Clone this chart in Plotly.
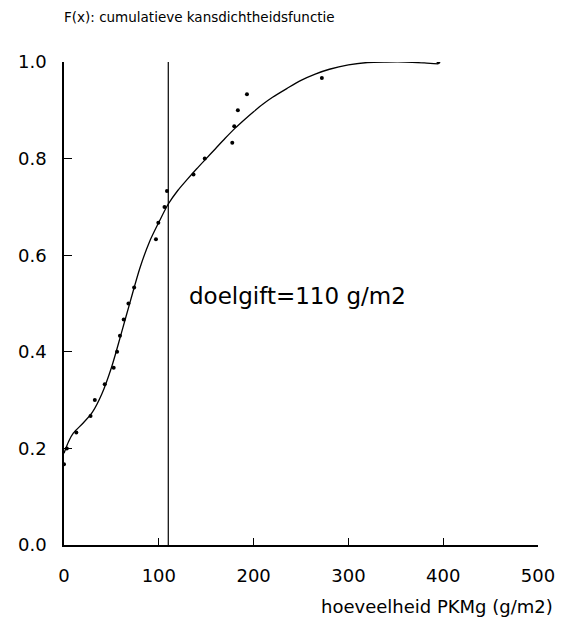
import plotly.graph_objects as go

# observed cumulative frequencies (k/30)
obs_x = [0, 3, 13, 28, 32.5, 43, 52.4, 56, 59, 63, 68, 74, 97, 99.5, 106, 108.6,
         136.6, 148.5, 177.5, 179.6, 183.4, 193, 272, 395]
obs_y = [0.167, 0.2, 0.233, 0.267, 0.3, 0.333, 0.367, 0.4, 0.433, 0.467, 0.5, 0.533,
         0.633, 0.667, 0.7, 0.733, 0.767, 0.8, 0.833, 0.867, 0.9, 0.933, 0.967, 1.0]

# fitted smooth curve
curve_x = [0, 5, 10, 20, 30, 40, 50, 55, 60, 70, 80, 90, 100, 110, 120, 130, 140,
           150, 160, 170, 180, 190, 200, 210, 220, 235, 250, 265, 280, 300, 320,
           340, 360, 380, 395]
curve_y = [0.19, 0.215, 0.232, 0.252, 0.275, 0.313, 0.367, 0.4, 0.435, 0.505, 0.573,
           0.627, 0.668, 0.706, 0.734, 0.757, 0.779, 0.8, 0.821, 0.842, 0.862, 0.88,
           0.897, 0.913, 0.927, 0.945, 0.962, 0.975, 0.985, 0.994, 0.999, 1.0, 1.0,
           0.998, 0.996]

target = 110
x_ticks = [0, 100, 200, 300, 400, 500]
y_ticks = [0.0, 0.2, 0.4, 0.6, 0.8, 1.0]

FONT = "DejaVu Sans"

fig = go.Figure()
fig.add_trace(go.Scatter(x=curve_x, y=curve_y, mode="lines",
                         line=dict(color="black", width=1.3, shape="spline", smoothing=0.8),
                         hoverinfo="skip"))
fig.add_trace(go.Scatter(x=obs_x, y=obs_y, mode="markers",
                         marker=dict(color="black", size=4)))
fig.add_trace(go.Scatter(x=[target, target], y=[0, 1.0], mode="lines",
                         line=dict(color="black", width=1.2)))

fig.update_layout(
    width=567, height=624,
    margin=dict(l=64, r=26, t=62, b=79),
    paper_bgcolor="white", plot_bgcolor="white",
    showlegend=False,
    font=dict(family=FONT, color="black", size=18),
    xaxis=dict(range=[0, 500], tickvals=x_ticks, ticktext=[str(v) for v in x_ticks],
               showline=True, linecolor="black", linewidth=1.5,
               ticks="inside", ticklen=7, tickcolor="black", tickwidth=1,
               showgrid=False, zeroline=False, ticklabelstandoff=14),
    yaxis=dict(range=[0, 1.0], tickvals=y_ticks, ticktext=[f"{v:.1f}" for v in y_ticks],
               showline=True, linecolor="black", linewidth=1.5,
               ticks="inside", ticklen=8, tickcolor="black", tickwidth=1,
               showgrid=False, zeroline=False, ticklabelstandoff=12),
    annotations=[
        dict(text="F(x): cumulatieve kansdichtheidsfunctie", xref="paper", yref="paper",
             x=-0.004, y=1.0, yshift=45, xanchor="left", yanchor="middle",
             showarrow=False, font=dict(size=13.5, family=FONT)),
        dict(text="hoeveelheid PKMg (g/m2)", xref="paper", yref="paper",
             x=1.035, y=0, yshift=-61, xanchor="right", yanchor="middle",
             showarrow=False, font=dict(size=18, family=FONT)),
        dict(text=f"doelgift={target} g/m2", xref="x", yref="y",
             x=130, y=0.515, xanchor="left", yanchor="middle",
             showarrow=False, font=dict(size=23, family=FONT)),
    ],
)

fig.write_html("out.html")
